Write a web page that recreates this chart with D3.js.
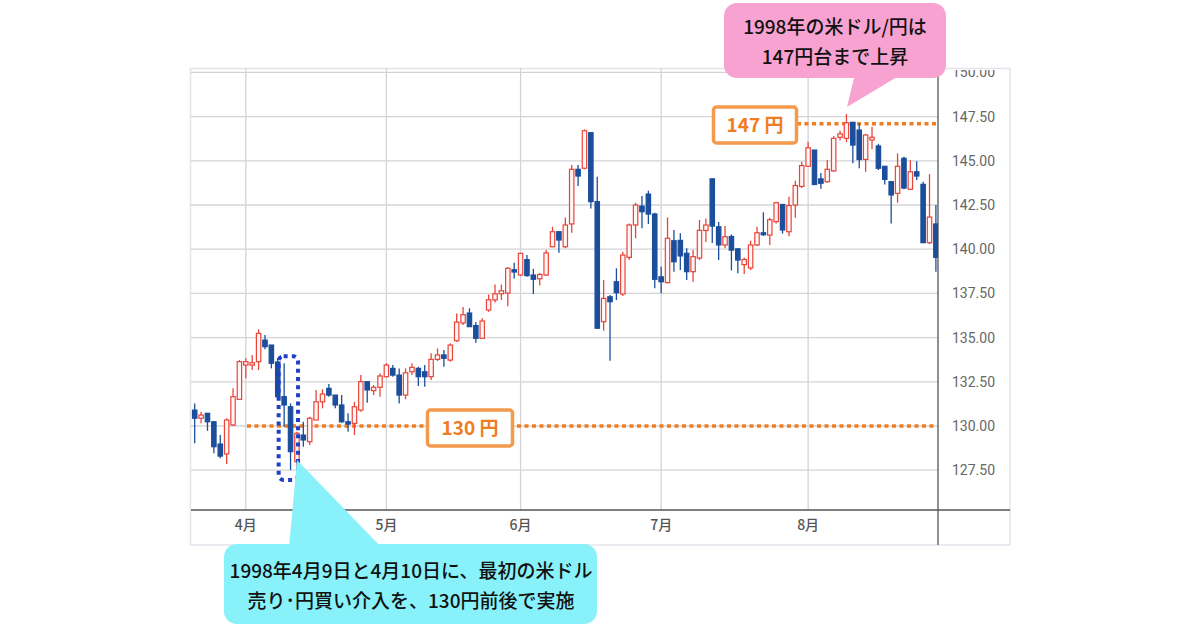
<!DOCTYPE html>
<html><head><meta charset="utf-8">
<script src="https://cdn.jsdelivr.net/npm/d3@7"></script>
<style>body{margin:0;background:#fff;}svg{display:block;}</style>
</head><body>
<svg id="c" width="1200" height="630"></svg>
<script>
const dates = ["3/20","3/23","3/24","3/25","3/26","3/27","3/30","3/31",
"4/1","4/2","4/3","4/6","4/7","4/8","4/9","4/10","4/13","4/14","4/15","4/16","4/17","4/20","4/21","4/22","4/23","4/24","4/27","4/28","4/29","4/30",
"5/1","5/4","5/5","5/6","5/7","5/8","5/11","5/12","5/13","5/14","5/15","5/18","5/19","5/20","5/21","5/22","5/25","5/26","5/27","5/28","5/29",
"6/1","6/2","6/3","6/4","6/5","6/8","6/9","6/10","6/11","6/12","6/15","6/16","6/17","6/18","6/19","6/22","6/23","6/24","6/25","6/26","6/29","6/30",
"7/1","7/2","7/3","7/6","7/7","7/8","7/9","7/10","7/13","7/14","7/15","7/16","7/17","7/20","7/21","7/22","7/23","7/24","7/27","7/28","7/29","7/30","7/31",
"8/3","8/4","8/5","8/6","8/7","8/10","8/11","8/12","8/13","8/14","8/17","8/18","8/19","8/20","8/21","8/24","8/25","8/26","8/27","8/28","8/31"];
const openV = [130.90,130.44,130.72,130.24,128.98,128.42,130.06,131.51,133.45,133.45,133.64,134.86,134.58,133.62,131.66,131.09,127.98,129.49,129.11,130.34,131.37,132.13,131.75,131.19,130.24,130.15,130.90,132.51,132.00,132.19,132.79,133.26,132.88,131.75,133.07,133.26,133.07,132.79,133.77,134.02,133.73,134.82,135.83,136.39,135.68,134.96,136.56,137.13,137.48,137.52,138.84,138.54,139.41,138.54,138.33,138.54,140.14,140.99,140.14,141.43,144.52,144.58,146.59,142.69,135.90,137.31,138.16,137.47,139.54,141.37,142.44,143.12,141.99,138.44,138.11,140.48,140.50,139.77,138.73,139.50,141.06,143.98,141.27,140.24,140.72,140.02,139.13,138.94,140.24,140.93,140.80,141.56,142.53,140.99,142.50,143.55,144.69,145.61,143.98,143.82,144.43,146.33,146.27,147.18,146.74,145.08,146.18,145.84,144.69,143.82,143.16,145.14,143.39,144.38,143.67,140.37,141.43];
const highV = [131.28,130.81,130.72,130.27,129.49,130.44,132.13,133.73,133.83,134.02,135.47,135.15,134.58,133.85,133.55,131.28,129.68,130.24,130.53,132.04,132.08,132.38,131.75,131.75,130.72,131.37,132.88,132.51,132.32,132.98,133.55,133.45,133.26,133.26,133.55,133.35,133.45,134.11,134.39,134.30,134.68,136.37,136.73,136.66,135.88,136.09,137.44,138.00,138.00,138.99,139.24,139.77,139.67,138.89,138.65,139.95,141.27,140.99,141.80,144.76,144.76,146.78,146.59,144.10,138.26,137.41,138.92,139.86,141.46,142.63,143.01,143.31,142.06,139.01,141.80,141.09,140.90,140.05,139.95,141.65,141.74,144.01,141.54,141.31,140.83,140.05,139.53,140.48,141.27,142.09,141.78,142.69,142.56,142.97,143.87,144.95,146.08,145.61,144.31,145.05,146.40,146.70,147.65,147.18,147.12,146.53,146.91,145.96,144.69,143.86,145.42,145.23,145.03,144.98,143.82,144.25,142.50];
const lowV = [129.02,130.15,129.73,128.46,128.17,127.85,130.00,131.47,132.70,133.17,133.17,134.34,133.26,131.47,129.96,127.51,127.70,128.83,128.93,130.34,131.00,131.66,131.00,130.19,129.68,129.49,130.81,131.32,131.75,131.66,132.75,132.79,131.28,131.51,132.88,132.26,132.22,132.60,133.68,133.35,133.64,134.77,135.71,135.62,134.71,134.96,136.46,136.99,137.13,136.77,138.35,138.48,138.44,137.47,137.95,138.48,140.11,139.80,140.05,140.93,143.57,144.52,142.31,135.53,135.39,133.69,137.13,137.35,139.39,140.62,141.18,141.43,137.79,137.51,138.07,138.73,138.82,138.26,138.16,139.39,140.41,140.35,139.39,140.05,138.80,138.64,138.60,138.82,140.18,140.75,140.24,141.46,140.88,140.73,141.78,143.46,144.67,143.63,143.42,143.76,144.38,146.15,146.05,144.86,144.58,144.38,145.65,144.48,143.66,141.46,142.63,143.39,143.35,143.91,140.37,140.29,138.73];
const closeV = [130.44,130.62,130.24,128.83,128.30,130.34,131.66,133.64,133.64,133.58,135.24,134.49,133.55,131.66,131.19,128.55,129.59,129.21,130.44,131.37,131.81,131.75,131.19,130.24,130.11,131.09,132.51,132.04,132.19,132.83,133.45,132.88,131.75,133.01,133.32,132.79,132.79,133.77,134.02,133.83,134.58,135.88,136.30,135.62,134.96,135.94,137.14,137.48,137.65,138.92,138.71,139.77,138.51,138.30,138.57,139.79,140.99,140.52,141.37,144.52,144.14,146.70,142.69,135.53,137.22,137.03,137.54,139.67,141.37,142.50,142.12,141.99,138.30,138.16,140.62,139.29,139.62,138.73,139.58,141.07,141.37,141.31,140.24,140.71,139.95,139.39,139.42,140.24,140.93,140.82,141.67,142.63,141.09,142.47,143.60,144.73,145.74,143.66,143.73,144.52,146.27,146.53,147.15,145.89,145.07,146.46,146.33,144.58,143.95,143.07,144.69,143.46,144.38,144.14,140.37,141.82,139.54];
const monthTickDates = ["4/1","5/1","6/1","7/1","8/3"];
const monthLabels = ["4月","5月","6月","7月","8月"];
const yTicks = [127.5,130,132.5,135,137.5,140,142.5,145,147.5,150];
const levels = [147.1, 130];
const levelLabels = ["147 円", "130 円"];
const interventionDates = ["4/9","4/10"];
const noteTop = ["1998年の米ドル/円は","147円台まで上昇"];
const noteBottom = ["1998年4月9日と4月10日に、最初の米ドル","売り･円買い介入を、130円前後で実施"];

const svg = d3.select("#c");
const L=191, R=938, T=68, B=510, FR=1010, FB=545;
const x = d3.scaleBand().domain(dates).range([191.5, 939.1]).padding(0);
const cx = d => x(d) + x.bandwidth()/2;
const y = d3.scaleLinear().domain([125.25,150.25]).range([B,T]);

const defs = svg.append("defs");
defs.append("clipPath").attr("id","plot").append("rect").attr("x",L).attr("y",T).attr("width",R-L).attr("height",B-T);
defs.append("clipPath").attr("id","frame").append("rect").attr("x",L).attr("y",T+2).attr("width",FR-L).attr("height",FB-T-2);

// frame
svg.append("rect").attr("x",190.5).attr("y",68.5).attr("width",FR-190.5).attr("height",FB-68.5)
  .attr("fill","#fff").attr("stroke","#e4e4ec").attr("stroke-width",1.5);

// grid
const grid = svg.append("g").attr("clip-path","url(#plot)");
grid.selectAll("line.h").data(yTicks).join("line")
  .attr("x1",L).attr("x2",R).attr("y1",d=>y(d)).attr("y2",d=>y(d))
  .attr("stroke","#d4d4d8").attr("stroke-width",1.3);
grid.selectAll("line.v").data(monthTickDates).join("line")
  .attr("x1",d=>cx(d)).attr("x2",d=>cx(d)).attr("y1",T).attr("y2",B)
  .attr("stroke","#d4d4d8").attr("stroke-width",1.3);

// axes
const yAxis = d3.axisRight(y).tickValues(yTicks).tickFormat(d3.format(".2f")).tickSize(0).tickPadding(14);
const gyWrap = svg.append("g").attr("clip-path","url(#frame)");
const gy = gyWrap.append("g").attr("transform",`translate(${R},0)`).call(yAxis);
gy.select(".domain").remove();
gy.selectAll("text").attr("font-family","Roboto, 'Noto Sans', sans-serif").attr("font-size",14).attr("fill","#666");
svg.append("line").attr("x1",R).attr("x2",R).attr("y1",T).attr("y2",FB).attr("stroke","#555").attr("stroke-width",1.3);

const xAxis = d3.axisBottom(x).tickValues(monthTickDates).tickFormat((d,i)=>monthLabels[i]).tickSize(0).tickPadding(10);
const gx = svg.append("g").attr("transform",`translate(0,${B})`).call(xAxis);
gx.select(".domain").remove();
gx.selectAll("text").attr("font-family","'Noto Sans CJK JP', sans-serif").attr("font-size",14).attr("font-weight",500).attr("fill","#555");
svg.append("line").attr("x1",L).attr("x2",FR).attr("y1",B).attr("y2",B).attr("stroke","#555").attr("stroke-width",1.3);

// level dotted lines
const orange = "#ef7d22";
svg.append("line").attr("x1",797).attr("x2",R-2).attr("y1",y(levels[0])).attr("y2",y(levels[0]))
  .attr("stroke",orange).attr("stroke-width",3.5).attr("stroke-dasharray","4,3.5");
svg.append("line").attr("x1",247).attr("x2",R-2).attr("y1",y(levels[1])).attr("y2",y(levels[1]))
  .attr("stroke",orange).attr("stroke-width",3.5).attr("stroke-dasharray","4,3.5");

// candles
const data = dates.map((d,i)=>({d,o:openV[i],h:highV[i],l:lowV[i],c:closeV[i]}));
const up="#e8453a", down="#1b4e9b";
const cg = svg.append("g").attr("clip-path","url(#plot)");
const bw = 4.4;
const cs = cg.selectAll("g.k").data(data).join("g");
cs.append("line").attr("x1",d=>cx(d.d)).attr("x2",d=>cx(d.d)).attr("y1",d=>y(d.h)).attr("y2",d=>y(d.l))
  .attr("stroke",d=>d.c>=d.o?up:down).attr("stroke-width",1.3);
cs.append("rect").attr("x",d=>cx(d.d)-bw/2).attr("width",bw)
  .attr("y",d=>y(Math.max(d.o,d.c))).attr("height",d=>Math.max(1.2,Math.abs(y(d.o)-y(d.c))))
  .attr("fill",d=>d.c>=d.o?"#fff6f5":down).attr("stroke",d=>d.c>=d.o?up:down).attr("stroke-width",1.2);

// level label boxes
function levelBox(cxp, cyp, w, h, label){
  svg.append("rect").attr("x",cxp-w/2).attr("y",cyp-h/2).attr("width",w).attr("height",h).attr("rx",3)
    .attr("fill","#fff").attr("stroke","#f39a4c").attr("stroke-width",3.5);
  svg.append("text").attr("x",cxp).attr("y",cyp).attr("dy","0.36em").attr("text-anchor","middle")
    .attr("font-family","'Noto Sans CJK JP', sans-serif").attr("font-weight",700).attr("font-size",19)
    .attr("fill",orange).text(label);
}
levelBox(755, 125, 83, 36, levelLabels[0]);
levelBox(470, 428, 85, 36, levelLabels[1]);

// intervention dotted box
const bx0 = cx(interventionDates[0]) - 5.5, bx1 = cx(interventionDates[1]) + 7.5;
svg.append("rect").attr("x",bx0).attr("y",y(133.95)).attr("width",bx1-bx0).attr("height",y(126.95)-y(133.95)).attr("rx",5)
  .attr("fill","none").attr("stroke","#1f3fc6").attr("stroke-width",4).attr("stroke-dasharray","4,4.2");

// callouts
const cyan="#88f1fa", pink="#f7a2d0";
svg.append("path").attr("d","M297,460 L289,548 L382,548 Z").attr("fill",cyan);
svg.append("rect").attr("x",224).attr("y",544).attr("width",373).attr("height",80).attr("rx",13).attr("fill",cyan);
svg.append("path").attr("d","M847,107 L855,74 L902,74 Z").attr("fill",pink);
svg.append("rect").attr("x",724).attr("y",3).attr("width",222).attr("height",75).attr("rx",13).attr("fill",pink);

function noteText(cxp, ys, lines){
  svg.append("text").attr("text-anchor","middle").attr("font-family","'Noto Sans CJK JP', sans-serif")
    .attr("font-weight",500).attr("font-size",19).attr("fill","#111")
    .selectAll("tspan").data(lines).join("tspan").attr("x",cxp).attr("y",(d,i)=>ys[i]).text(d=>d);
}
noteText(835, [34,64], noteTop);
noteText(411, [578,608], noteBottom);
</script>
</body></html>
